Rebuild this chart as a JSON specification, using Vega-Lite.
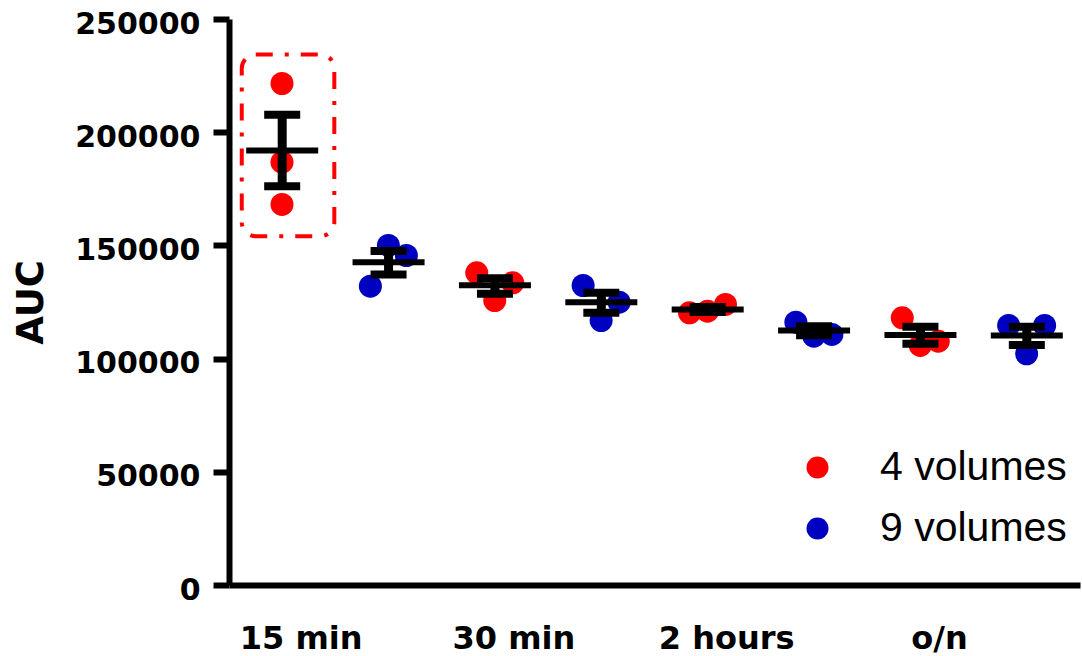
{
  "$schema": "https://vega.github.io/schema/vega-lite/v6.json",
  "width": 851,
  "height": 566,
  "autosize": {"type": "none"},
  "padding": {"left": 229, "top": 19, "right": 2, "bottom": 71},
  "background": "white",
  "config": {
    "view": {"stroke": null},
    "axisX": {
      "domainColor": "black", "domainWidth": 6, "ticks": false, "tickSize": 0, "grid": false,
      "labelFont": "DejaVu Sans", "labelFontWeight": "bold", "labelFontSize": 32, "labelColor": "black",
      "labelPadding": 63, "labelBaseline": "alphabetic", "labelAngle": 0, "labelOffset": 19, "labelLimit": 400
    },
    "axisY": {
      "domainColor": "black", "domainWidth": 6, "tickColor": "black", "tickWidth": 6, "tickSize": 16, "grid": false,
      "labelFont": "DejaVu Sans", "labelFontWeight": "bold", "labelFontSize": 30, "labelColor": "black",
      "labelPadding": 13, "labelBaseline": "middle", "labelOffset": 5, "format": "d",
      "titleFont": "DejaVu Sans", "titleFontWeight": "bold", "titleFontSize": 37, "titleColor": "black", "titlePadding": 24
    }
  },
  "datasets": {
    "points": [
      {"group": 1, "series": "4 volumes", "side": "C", "auc": 221510},
      {"group": 1, "series": "4 volumes", "side": "C", "auc": 186750},
      {"group": 1, "series": "4 volumes", "side": "C", "auc": 168070},
      {"group": 2, "series": "9 volumes", "side": "L", "auc": 131980},
      {"group": 2, "series": "9 volumes", "side": "C", "auc": 149960},
      {"group": 2, "series": "9 volumes", "side": "R", "auc": 145540},
      {"group": 3, "series": "4 volumes", "side": "L", "auc": 137900},
      {"group": 3, "series": "4 volumes", "side": "R", "auc": 133480},
      {"group": 3, "series": "4 volumes", "side": "C", "auc": 125660},
      {"group": 4, "series": "9 volumes", "side": "L", "auc": 132290},
      {"group": 4, "series": "9 volumes", "side": "R", "auc": 124910},
      {"group": 4, "series": "9 volumes", "side": "C", "auc": 116830},
      {"group": 5, "series": "4 volumes", "side": "L", "auc": 120230},
      {"group": 5, "series": "4 volumes", "side": "R", "auc": 123900},
      {"group": 5, "series": "4 volumes", "side": "C", "auc": 120940},
      {"group": 6, "series": "9 volumes", "side": "L", "auc": 116080},
      {"group": 6, "series": "9 volumes", "side": "C", "auc": 109900},
      {"group": 6, "series": "9 volumes", "side": "R", "auc": 110650},
      {"group": 7, "series": "4 volumes", "side": "L", "auc": 118020},
      {"group": 7, "series": "4 volumes", "side": "C", "auc": 105790},
      {"group": 7, "series": "4 volumes", "side": "R", "auc": 107690},
      {"group": 8, "series": "9 volumes", "side": "L", "auc": 114620},
      {"group": 8, "series": "9 volumes", "side": "C", "auc": 102120},
      {"group": 8, "series": "9 volumes", "side": "R", "auc": 114620}
    ],
    "summary": [
      {"group": 1, "mean": 191920, "lo": 176150, "hi": 207690},
      {"group": 2, "mean": 142580, "lo": 137150, "hi": 147530},
      {"group": 3, "mean": 132420, "lo": 128620, "hi": 135510},
      {"group": 4, "mean": 124910, "lo": 120230, "hi": 129060},
      {"group": 5, "mean": 121690, "lo": 120570, "hi": 122810},
      {"group": 6, "mean": 112400, "lo": 110300, "hi": 114300},
      {"group": 7, "mean": 110400, "lo": 106540, "hi": 114050},
      {"group": 8, "mean": 110200, "lo": 106010, "hi": 114050}
    ],
    "annotation": [
      {"group": 1, "lo": 154070, "hi": 234320}
    ]
  },
  "layer": [
    {
      "data": {"name": "points"},
      "mark": {"type": "circle", "size": 529, "opacity": 1},
      "encoding": {
        "x": {
          "field": "group", "type": "ordinal", "bandPosition": 0, "title": null,
          "scale": {"type": "band", "domain": [1, 2, 3, 4, 5, 6, 7, 8], "paddingInner": 0, "paddingOuter": 0},
          "axis": {"labelOffset": 19, "labelExpr": "datum.value == 1 ? '15 min' : datum.value == 3 ? '30 min' : datum.value == 5 ? '2 hours' : datum.value == 7 ? 'o/n' : ''"}
        },
        "xOffset": {
          "field": "side", "type": "nominal",
          "scale": {"type": "point", "domain": ["L", "C", "R"], "range": [35, 71], "padding": 0}
        },
        "y": {
          "field": "auc", "type": "quantitative", "title": "AUC",
          "scale": {"domain": [0, 250000], "nice": false},
          "axis": {"values": [0, 50000, 100000, 150000, 200000, 250000], "format": "d"}
        },
        "color": {
          "field": "series", "type": "nominal",
          "scale": {"domain": ["4 volumes", "9 volumes"], "range": ["#FF0000", "#0000C0"]},
          "legend": {
            "title": null, "orient": "none", "legendX": 568, "legendY": 428,
            "symbolType": "circle", "symbolSize": 484, "symbolOpacity": 1, "symbolStrokeWidth": 0,
            "labelFont": "Liberation Sans", "labelFontSize": 41, "labelColor": "black",
            "labelOffset": 42, "labelLimit": 400, "rowPadding": 19
          }
        }
      }
    },
    {
      "data": {"name": "annotation"},
      "mark": {"type": "rect", "fill": null, "stroke": "#FF0000", "strokeWidth": 4, "strokeDash": [17, 12, 4, 12], "cornerRadius": 14},
      "encoding": {
        "x": {"field": "group", "type": "ordinal", "title": null, "bandPosition": 0.12},
        "x2": {"field": "group", "bandPosition": 0.99},
        "y": {"field": "lo", "type": "quantitative", "title": "AUC"},
        "y2": {"field": "hi"}
      }
    },
    {
      "data": {"name": "summary"},
      "mark": {"type": "rule", "strokeWidth": 9, "color": "black"},
      "encoding": {
        "x": {"field": "group", "type": "ordinal", "title": null},
        "y": {"field": "lo", "type": "quantitative", "title": "AUC"},
        "y2": {"field": "hi"}
      }
    },
    {
      "data": {"name": "summary"},
      "mark": {"type": "tick", "size": 36, "thickness": 8, "color": "black", "opacity": 1},
      "encoding": {
        "x": {"field": "group", "type": "ordinal", "title": null},
        "y": {"field": "lo", "type": "quantitative", "title": "AUC"}
      }
    },
    {
      "data": {"name": "summary"},
      "mark": {"type": "tick", "size": 36, "thickness": 8, "color": "black", "opacity": 1},
      "encoding": {
        "x": {"field": "group", "type": "ordinal", "title": null},
        "y": {"field": "hi", "type": "quantitative", "title": "AUC"}
      }
    },
    {
      "data": {"name": "summary"},
      "mark": {"type": "tick", "size": 72, "thickness": 6, "color": "black", "opacity": 1},
      "encoding": {
        "x": {"field": "group", "type": "ordinal", "title": null},
        "y": {"field": "mean", "type": "quantitative", "title": "AUC"}
      }
    }
  ]
}
